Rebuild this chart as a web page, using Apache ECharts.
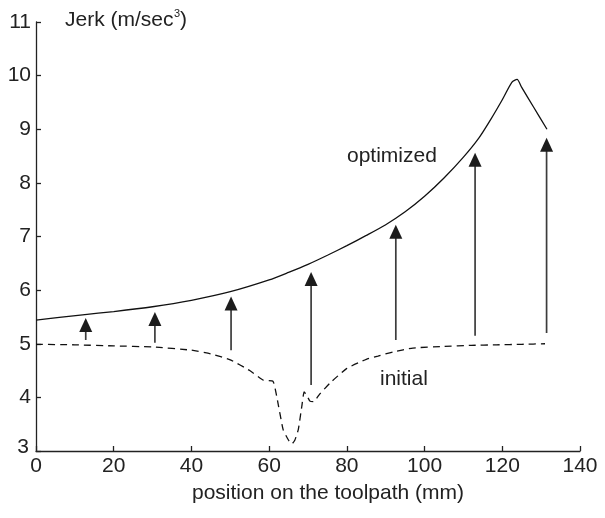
<!DOCTYPE html>
<html>
<head>
<meta charset="utf-8">
<script src="https://cdn.jsdelivr.net/npm/echarts@6/dist/echarts.min.js"></script>
<style>
html,body{margin:0;padding:0;background:#fff;}
#chart{width:605px;height:518px;}
</style>
</head>
<body>
<div id="chart"></div>
<script>
// x positions (mm) and jerk values (m/sec^3)
const optimizedX = [0, 6, 12, 20, 30, 40, 50, 60, 65, 70, 75, 80, 85, 90, 95, 100, 105, 110, 114, 117, 120, 122.5, 123.8, 125, 128, 131.5];
const optimizedY = [5.44, 5.49, 5.54, 5.6, 5.69, 5.81, 5.97, 6.19, 6.33, 6.48, 6.65, 6.83, 7.02, 7.22, 7.46, 7.75, 8.09, 8.48, 8.84, 9.18, 9.55, 9.88, 9.93, 9.78, 9.42, 9.0];

const initialX = [0, 10, 20, 30, 40, 45, 50, 55, 58.5, 61, 62, 63.6, 65, 65.8, 66.6, 67.5, 68.4, 69, 69.6, 70.5, 71.4, 73, 75.7, 80, 85, 88, 92, 97, 105, 112, 118.5, 125, 131];
const initialY = [4.99, 4.98, 4.96, 4.94, 4.88, 4.81, 4.7, 4.5, 4.32, 4.3, 4.0, 3.4, 3.2, 3.13, 3.2, 3.4, 3.83, 4.1, 4.05, 3.93, 3.92, 4.06, 4.27, 4.54, 4.71, 4.77, 4.85, 4.92, 4.95, 4.97, 4.98, 4.99, 5.0];

// arrows: position, start value, tip value
const arrowX = [12.8, 30.6, 50.2, 70.8, 92.6, 113, 131.4];
const arrowFrom = [5.07, 5.02, 4.88, 4.23, 5.07, 5.15, 5.2];
const arrowTo = [5.48, 5.59, 5.88, 6.34, 7.22, 8.56, 8.84];

const xTicks = [0, 20, 40, 60, 80, 100, 120, 140];
const yTicks = [3, 4, 5, 6, 7, 8, 9, 10, 11];

const FONT = 'Liberation Sans, Arial, sans-serif';
const TXT = '#222';

const chart = echarts.init(document.getElementById('chart'), null, {renderer: 'canvas'});

const zip = (xs, ys) => xs.map((x, i) => [x, ys[i]]);

chart.setOption({
  animation: false,
  backgroundColor: '#fff',
  grid: {left: 36, right: 25, top: 22, bottom: 67, containLabel: false},
  xAxis: {
    type: 'value', min: xTicks[0], max: xTicks[xTicks.length - 1], interval: 20,
    axisLine: {onZero: false, lineStyle: {color: '#222', width: 1.3}},
    axisTick: {inside: true, length: 5, lineStyle: {color: '#222', width: 1.3}},
    axisLabel: {margin: 5, color: TXT, fontFamily: FONT, fontSize: 21},
    splitLine: {show: false}
  },
  yAxis: {
    type: 'value', min: yTicks[0], max: yTicks[yTicks.length - 1], interval: 1,
    axisLine: {onZero: false, lineStyle: {color: '#222', width: 1.3}},
    axisTick: {inside: true, length: 5, lineStyle: {color: '#222', width: 1.3}},
    axisLabel: {
      margin: 5, color: TXT, fontFamily: FONT, fontSize: 21,
      formatter: v => v === yTicks[0] ? '{low|' + v + '}' : String(v),
      rich: {low: {fontFamily: FONT, fontSize: 21, color: TXT, padding: [0, 2, 8, 0]}}
    },
    splitLine: {show: false}
  },
  series: [
    {
      type: 'custom',
      data: arrowX.map((x, i) => [x, arrowFrom[i], arrowTo[i]]),
      renderItem: function (params, api) {
        const x = api.value(0);
        const pb = api.coord([x, api.value(1)]);
        const pt = api.coord([x, api.value(2)]);
        const hh = 14, hw = 6.5;
        return {
          type: 'group',
          children: [
            {type: 'line', shape: {x1: pb[0], y1: pb[1], x2: pt[0], y2: pt[1] + hh - 1},
             style: {stroke: '#3c3c3c', lineWidth: 1.7}},
            {type: 'polygon', shape: {points: [[pt[0], pt[1]], [pt[0] - hw, pt[1] + hh], [pt[0] + hw, pt[1] + hh]]},
             style: {fill: '#1c1c1c'}}
          ]
        };
      },
      z: 3
    },
    {
      type: 'line', data: zip(optimizedX, optimizedY), showSymbol: false, symbol: 'none',
      lineStyle: {color: '#111', width: 1.3}, smooth: 0.25, z: 4
    },
    {
      type: 'line', data: zip(initialX, initialY), showSymbol: false, symbol: 'none',
      lineStyle: {color: '#111', width: 1.3, type: [7, 5]}, smooth: 0.15, z: 4
    }
  ],
  graphic: [
    {type: 'text', left: 65, top: 10, style: {text: 'Jerk (m/sec', font: '21px ' + FONT, fill: TXT}},
    {type: 'text', left: 174, top: 8, style: {text: '3', font: '11px ' + FONT, fill: TXT}},
    {type: 'text', left: 180, top: 10, style: {text: ')', font: '21px ' + FONT, fill: TXT}},
    {type: 'text', left: 347, top: 146, style: {text: 'optimized', font: '21px ' + FONT, fill: TXT}},
    {type: 'text', left: 380, top: 369, style: {text: 'initial', font: '21px ' + FONT, fill: TXT}},
    {type: 'text', left: 192, top: 483, style: {text: 'position on the toolpath (mm)', font: '21px ' + FONT, fill: TXT}}
  ]
});
</script>
</body>
</html>
